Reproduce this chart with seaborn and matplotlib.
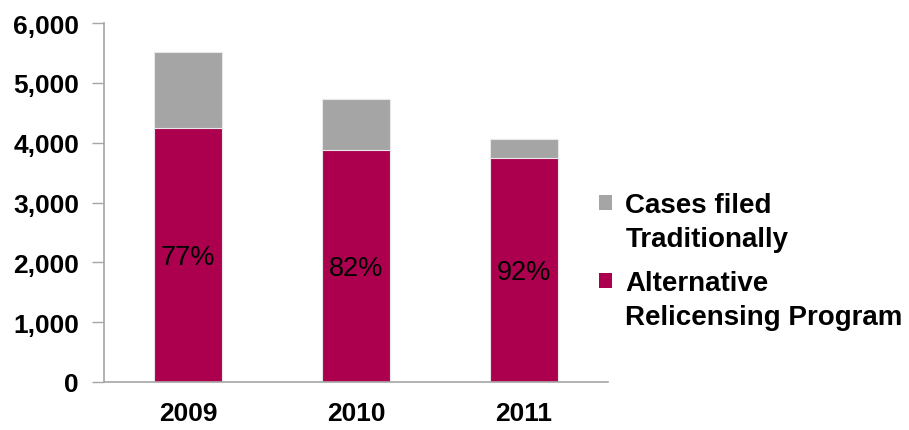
import matplotlib
matplotlib.use("Agg")
import matplotlib.pyplot as plt
import seaborn as sns
import pandas as pd
from matplotlib.patches import Rectangle
from matplotlib.legend_handler import HandlerPatch

years = ["2009", "2010", "2011"]
alt_program = [4240, 3878, 3749]
traditional = [1283, 852, 313]
pct_labels = ["77%", "82%", "92%"]
y_ticks = [0, 1000, 2000, 3000, 4000, 5000, 6000]
series_names = ["Cases filed\nTraditionally", "Alternative\nRelicensing Program"]

sns.set_theme(style="white")
plt.rcParams["font.family"] = ["Liberation Sans", "DejaVu Sans"]
plt.rcParams["text.color"] = "black"
plt.rcParams["xtick.color"] = "black"
plt.rcParams["ytick.color"] = "black"

MAGENTA = "#AC004F"
GRAY = "#A5A5A5"
AXIS = "#A6A6A6"

df = pd.DataFrame({"year": years, "alt": alt_program, "trad": traditional})
df["total"] = df["alt"] + df["trad"]

fig = plt.figure(figsize=(9.09, 4.31), dpi=100)
ax = fig.add_axes([104 / 909, 1 - 383 / 431, (608 - 104) / 909, (383 - 24) / 431])

sns.barplot(data=df, x="year", y="total", color=GRAY, width=0.4, ax=ax,
            label=series_names[0], edgecolor="#E8E8E8", linewidth=0.8, saturation=1)
sns.barplot(data=df, x="year", y="alt", color=MAGENTA, width=0.4, ax=ax,
            label=series_names[1], edgecolor="#E8E8E8", linewidth=0.8, saturation=1)

for i, (v, lab) in enumerate(zip(alt_program, pct_labels)):
    ax.text(i, v / 2 - 30, lab, ha="center", va="center", fontsize=19.5, color="black")

ax.set_xlim(-0.5, 2.5)
ax.set_ylim(0, 6000)
ax.set_yticks(y_ticks)
ax.set_yticklabels([f"{t:,}" for t in y_ticks], fontsize=19, fontweight="bold")
ax.set_xticks(range(len(years)))
ax.set_xticklabels(years, fontsize=19, fontweight="bold")
ax.set_xlabel("")
ax.set_ylabel("")
ax.set_xticks([-0.5, 0.5, 1.5, 2.5], minor=True)
ax.tick_params(axis="x", which="major", length=0, pad=14)
ax.tick_params(axis="x", which="minor", length=9, width=1, color=AXIS, direction="out")
ax.tick_params(axis="y", length=9, width=1, color=AXIS, direction="out", pad=9, left=True,
               labelcolor="black")

for s in ["top", "right"]:
    ax.spines[s].set_visible(False)
for s in ["left", "bottom"]:
    ax.spines[s].set_color(AXIS)
    ax.spines[s].set_linewidth(1.2)

handles, labels = ax.get_legend_handles_labels()
if ax.get_legend() is not None:
    ax.get_legend().remove()
handles = [h.patches[0] if hasattr(h, "patches") else h for h in handles]


def top_square(legend, orig_handle, xdescent, ydescent, width, height, fontsize):
    return Rectangle((-xdescent, -ydescent + 0.72 * fontsize), width, height)


leg = fig.legend(handles, labels, loc="center left",
                 bbox_to_anchor=(599 / 909, 1 - 262 / 431), frameon=False,
                 prop={"size": 20, "weight": "bold"}, handlelength=0.45,
                 handleheight=0.45, handletextpad=0.5, labelspacing=0.65,
                 borderpad=0, borderaxespad=0,
                 handler_map={h: HandlerPatch(patch_func=top_square) for h in handles})
for t in leg.get_texts():
    t.set_linespacing(1.4)
for p in leg.get_patches():
    p.set_edgecolor("none")

fig.savefig("out.png", dpi=100)
